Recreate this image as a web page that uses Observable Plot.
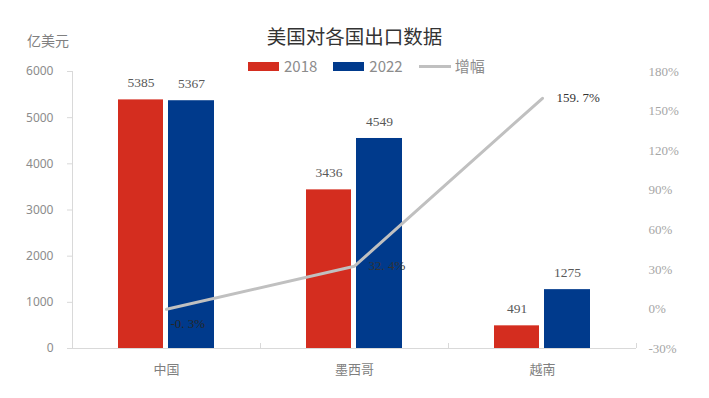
<!DOCTYPE html>
<html><head><meta charset="utf-8">
<script src="https://cdn.jsdelivr.net/npm/d3@7"></script>
<script src="https://cdn.jsdelivr.net/npm/@observablehq/plot@0.6"></script>
<style>
html,body{margin:0;padding:0;background:#fff;}
#wrap{position:relative;width:709px;height:398px;font-family:"Noto Sans CJK SC","Noto Sans",sans-serif;}
#wrap svg{position:absolute;left:0;top:0;}
.ov{position:absolute;white-space:nowrap;}
#title{left:0;width:709px;text-align:center;top:22px;font-size:19.5px;color:#333;line-height:28px;}
#unit{left:27px;top:30px;font-size:14px;color:#808080;line-height:20px;}
#legend{left:248px;top:56px;font-size:15px;color:#8c8c8c;line-height:20px;display:flex;align-items:center;}
.sw{display:inline-block;width:31px;height:9px;margin-right:5px;}
.ln{display:inline-block;width:32px;height:3px;background:#c0c0c0;margin-right:4px;}
.it{display:inline-flex;align-items:center;margin-right:16px;}
</style></head>
<body>
<div id="wrap"></div>
<script>
const categories = ["中国", "墨西哥", "越南"];
const series = ["2018", "2022", "增幅"];
const v2018 = [5385, 3436, 491];
const v2022 = [5367, 4549, 1275];
const growth = [-0.3, 32.4, 159.7];
const leftTicks = [0, 1000, 2000, 3000, 4000, 5000, 6000];
const pctTicks = [-30, 0, 30, 60, 90, 120, 150, 180];
const unitLabel = "亿美元";
const titleText = "美国对各国出口数据";

const colors = {"2018": "#d42d1f", "2022": "#003a8c", "增幅": "#c0c0c0"};
const yMax = 6000, pMin = -30, pMax = 180;
const toY = p => (p - pMin) / (pMax - pMin) * yMax;
const fromY = v => Math.round(v / yMax * (pMax - pMin) + pMin);
const fmtPct = p => p.toFixed(1).replace(".", ". ") + "%";

const rows = categories.map((c, i) => ({cat: c, a: v2018[i], b: v2022[i], g: growth[i], gy: toY(growth[i])}));
const serif = "'Liberation Serif','DejaVu Serif',serif";
const sans = "'Noto Sans','Noto Sans CJK SC',sans-serif";

const chart = Plot.plot({
  width: 709, height: 398,
  marginTop: 71, marginBottom: 50, marginLeft: 72, marginRight: 73,
  x: {domain: categories, padding: 0, axis: null},
  y: {domain: [0, yMax], axis: null},
  style: {background: "transparent"},
  marks: [
    Plot.barY(rows, {x: "cat", y: "a", fill: colors["2018"], insetLeft: 46, insetRight: 97}),
    Plot.barY(rows, {x: "cat", y: "b", fill: colors["2022"], insetLeft: 96, insetRight: 46}),
    Plot.ruleY([0], {stroke: "#d9d9d9", strokeWidth: 1}),
    Plot.frame({anchor: "left", stroke: "#d9d9d9"}),
    Plot.ruleX(categories, {x: d => d, y1: 0, y2: 0, insetTop: -5, dx: -94, stroke: "#d9d9d9"}),
    Plot.ruleX(categories.slice(-1), {x: d => d, y1: 0, y2: 0, insetTop: -5, dx: 94, stroke: "#d9d9d9"}),
    Plot.axisY(leftTicks, {anchor: "left", tickSize: 5, tickPadding: 14, tickFormat: d => String(d), stroke: "#d9d9d9", fill: "#8c8c8c", fontSize: 12, fontFamily: sans, label: null}),
    Plot.axisY(pctTicks.map(toY), {anchor: "right", tickSize: 0, tickPadding: 12, tickFormat: v => fromY(v) + "%", fill: "#a6a6a6", fontSize: 13, fontFamily: serif, label: null}),
    Plot.text(categories, {x: d => d, y: 0, dy: 21, text: d => d, fill: "#7f7f7f", fontSize: 13, fontFamily: "'Noto Sans CJK SC',sans-serif"}),
    Plot.text(rows, {x: "cat", y: "a", text: d => String(d.a), dx: -25.5, dy: -17, fill: "#595959", fontSize: 13.5, fontFamily: serif}),
    Plot.text(rows, {x: "cat", y: "b", text: d => String(d.b), dx: 25, dy: -17, fill: "#595959", fontSize: 13.5, fontFamily: serif}),
    Plot.line(rows, {x: "cat", y: "gy", stroke: colors["增幅"], strokeWidth: 3}),
    Plot.text(rows.slice(0, 1), {x: "cat", y: "gy", text: d => fmtPct(d.g), dx: 4, dy: 15, textAnchor: "start", fill: "#262626", fontSize: 13, fontFamily: serif}),
    Plot.text(rows.slice(1, 3), {x: "cat", y: "gy", text: d => fmtPct(d.g), dx: 14, dy: 0, textAnchor: "start", fill: "#333", fontSize: 13, fontFamily: serif})
  ]
});

const wrap = document.getElementById("wrap");
wrap.appendChild(chart);
const t = document.createElement("div"); t.className = "ov"; t.id = "title"; t.textContent = titleText; wrap.appendChild(t);
const u = document.createElement("div"); u.className = "ov"; u.id = "unit"; u.textContent = unitLabel; wrap.appendChild(u);
const lg = document.createElement("div"); lg.className = "ov"; lg.id = "legend";
series.forEach((s, i) => {
  const it = document.createElement("span"); it.className = "it";
  const sw = document.createElement("span");
  if (i < 2) { sw.className = "sw"; sw.style.background = colors[s]; } else { sw.className = "ln"; }
  it.appendChild(sw);
  const tx = document.createElement("span"); tx.textContent = s; it.appendChild(tx);
  lg.appendChild(it);
});
wrap.appendChild(lg);
</script>
</body></html>
